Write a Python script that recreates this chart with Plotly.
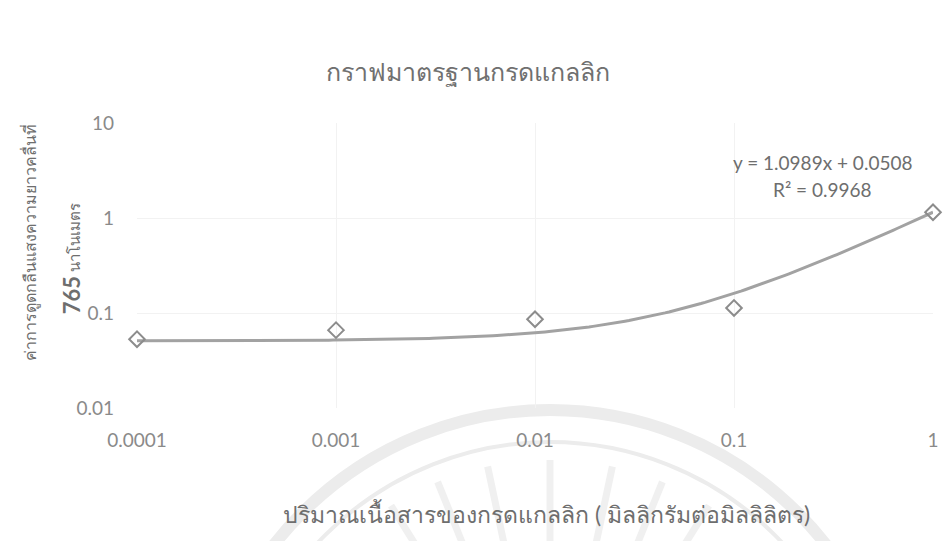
import numpy as np
import plotly.graph_objects as go

# Gallic acid standard: concentration (mg/mL) vs absorbance at 765 nm
concentration = [0.0001, 0.001, 0.01, 0.1, 1]
absorbance = [0.053, 0.066, 0.086, 0.113, 1.15]

# Linear trendline coefficients as reported on the chart
slope = 1.0989
intercept = 0.0508
r_squared = 0.9968

x_tick_vals = [0.0001, 0.001, 0.01, 0.1, 1]
x_tick_text = ["0.0001", "0.001", "0.01", "0.1", "1"]
y_tick_vals = [0.01, 0.1, 1, 10]
y_tick_text = ["0.01", "0.1", "1", "10"]

title_text = "กราฟมาตรฐานกรดแกลลิก"
x_title = "ปริมาณเนื้อสารของกรดแกลลิก ( มิลลิกรัมต่อมิลลิลิตร)"
y_title_1 = "ค่าการดูดกลืนแสงความยาวคลื่นที่"
y_title_2 = "<b><span style='font-size:22px'>765</span></b> นาโนเมตร"

GREY = "#8c8c8c"
TEXT = "#8a8a8a"
LABEL = "#6e6e6e"
SEAL = "#ececec"

W, H = 951, 541
ML, MR, MT, MB = 137, 18, 123, 133
PW, PH = W - ML - MR, H - MT - MB


def px_to_paper(px, py):
    return (px - ML) / PW, (H - MB - py) / PH


trend_x = np.logspace(np.log10(concentration[0]), np.log10(concentration[-1]), 200)
trend_y = slope * trend_x + intercept

fig = go.Figure()
fig.add_trace(go.Scatter(
    x=trend_x, y=trend_y, mode="lines",
    line=dict(color="#a2a2a2", width=3),
    hoverinfo="skip", showlegend=False,
))
fig.add_trace(go.Scatter(
    x=concentration, y=absorbance, mode="markers",
    marker=dict(symbol="diamond-open", size=12, color=GREY, line=dict(width=2, color=GREY)),
    cliponaxis=False, showlegend=False,
))

# Faint page seal behind the lower part of the chart
cx, cy = 550, 760
for r, w in [(350, 12), (318, 4)]:
    x0, y1 = px_to_paper(cx - r, cy - r)
    x1, y0 = px_to_paper(cx + r, cy + r)
    fig.add_shape(type="circle", xref="paper", yref="paper",
                  x0=x0, x1=x1, y0=y0, y1=y1,
                  line=dict(color=SEAL, width=w), layer="below")
for ang in np.deg2rad([58, 68, 78, 90, 102, 112, 122]):
    xa, ya = px_to_paper(cx + 200 * np.cos(ang), cy - 200 * np.sin(ang))
    xb, yb = px_to_paper(cx + 300 * np.cos(ang), cy - 300 * np.sin(ang))
    fig.add_shape(type="line", xref="paper", yref="paper",
                  x0=xa, y0=ya, x1=xb, y1=yb,
                  line=dict(color="#f0f0f0", width=7), layer="below")

fig.update_layout(
    width=W, height=H,
    margin=dict(l=ML, r=MR, t=MT, b=MB),
    paper_bgcolor="white", plot_bgcolor="rgba(0,0,0,0)",
    font=dict(family="Lato, 'Open Sans', sans-serif", color=TEXT, size=14),
    title=dict(text=title_text, x=0.492, xanchor="center", y=0.867, yanchor="middle",
               font=dict(size=25, color="#707070")),
    xaxis=dict(
        type="log", range=[-4, 0],
        tickvals=x_tick_vals, ticktext=x_tick_text,
        showgrid=True, gridcolor="#f2f2f2", gridwidth=1,
        showline=False, zeroline=False, ticks="", ticklen=0,
        tickfont=dict(size=19, color=TEXT), ticklabelstandoff=19,
    ),
    yaxis=dict(
        type="log", range=[-2, 1],
        tickvals=y_tick_vals, ticktext=y_tick_text,
        showgrid=True, gridcolor="#f2f2f2", gridwidth=1,
        showline=False, zeroline=False, ticks="", ticklen=0,
        tickfont=dict(size=19, color=TEXT), ticklabelstandoff=22,
    ),
)

fig.add_annotation(
    xref="paper", yref="paper", x=0.861, y=0.863,
    text=f"y = {slope}x + {intercept}", showarrow=False,
    font=dict(size=19, color=LABEL), xanchor="center", yanchor="middle",
)
fig.add_annotation(
    xref="paper", yref="paper", x=0.861, y=0.765,
    text=f"R² = {r_squared}", showarrow=False,
    font=dict(size=19, color=LABEL), xanchor="center", yanchor="middle",
)
fig.add_annotation(
    xref="paper", yref="paper", x=0.515, y=-0.37,
    text=x_title, showarrow=False,
    font=dict(size=23, color=LABEL), xanchor="center", yanchor="middle",
)
fig.add_annotation(
    xref="paper", yref="paper", x=-0.135, y=0.58,
    text=y_title_1, showarrow=False, textangle=-90,
    font=dict(size=16, color=LABEL), xanchor="center", yanchor="middle",
)
fig.add_annotation(
    xref="paper", yref="paper", x=-0.083, y=0.525,
    text=y_title_2, showarrow=False, textangle=-90,
    font=dict(size=15, color=LABEL), xanchor="center", yanchor="middle",
)

fig.write_html("out.html")
